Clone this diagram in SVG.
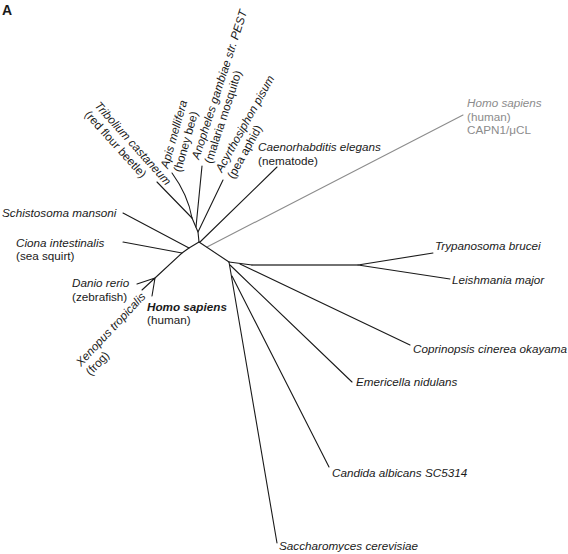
<svg xmlns="http://www.w3.org/2000/svg" width="568" height="554" viewBox="0 0 568 554">
<style>
.br{fill:none;stroke:#1a1a1a;stroke-width:1.1;stroke-linecap:round;stroke-linejoin:round}
.gr{stroke:#8c8c8c}
.thk{stroke:#444;stroke-width:1.6}
text{font-family:"Liberation Sans",Arial,sans-serif;font-size:11.7px;fill:#1a1a1a}
.it{font-style:italic}
.b{font-weight:bold}
.g{fill:#8c8c8c}
</style>
<rect width="568" height="554" fill="#fff"/>
<text x="2" y="15" class="b" style="font-size:14px">A</text>
<g id="connectors">
<path class="br" d="M157,182 L192,218"/>
<path class="br" d="M172,173 Q188,195 192,218"/>
<path class="br" d="M202,166 L196,227"/>
<path class="br" d="M223,180 L198,232"/>
<path class="br" d="M192,218 L198,232 L199,242"/>
<path class="br" d="M277,167 L200,242"/>
<path class="br gr" d="M207,247 L463,115"/>
<path class="br" d="M199,242 L189,248 L182,253 L155,278"/>
<path class="br" d="M123,213 L189,248"/>
<path class="br" d="M123,242 L182,253"/>
<path class="br" d="M155,278 L137,284 M155,278 L142,290 M155,278 L152,296"/>
<path class="br" d="M199,242 L229,262"/>
<path class="br" d="M229,262 L252,265"/>
<path class="br thk" d="M252,265 L358,265"/>
<path class="br" d="M358,265 L433,253 M358,265 L450,279"/>
<path class="br" d="M240,264 L410,345"/>
<path class="br" d="M230,265 L352,382"/>
<path class="br" d="M229,262 L277,543"/>
<path class="br" d="M232,276 L329,467"/>
</g>
<g id="n-tribolium" transform="translate(94,106) rotate(48)">
<text class="it" x="0" y="0">Tribolium castaneum</text>
<text x="0" y="13.5">(red flour beetle)</text>
</g>
<g id="n-apis" transform="translate(168,169) rotate(-74)">
<text class="it" x="0" y="0">Apis mellifera</text>
<text x="0" y="13.5">(honey bee)</text>
</g>
<g id="n-anopheles" transform="translate(199,160) rotate(-72)">
<text class="it" x="0" y="0">Anopheles gambiae str. PEST</text>
<text x="0" y="13.5">(malaria mosquito)</text>
</g>
<g id="n-acyrthosiphon" transform="translate(222,173) rotate(-61)">
<text class="it" x="0" y="0">Acyrthosiphon pisum</text>
<text x="0" y="13.5">(pea aphid)</text>
</g>
<g id="n-caenorhabditis">
<text class="it" x="258" y="151">Caenorhabditis elegans</text>
<text x="258" y="164.5">(nematode)</text>
</g>
<g id="n-capn1">
<text class="it g" x="467" y="107">Homo sapiens</text>
<text class="g" x="467" y="120.5">(human)</text>
<text class="g" x="467" y="134">CAPN1/μCL</text>
</g>
<g id="n-schistosoma">
<text class="it" x="2" y="217">Schistosoma mansoni</text>
</g>
<g id="n-ciona">
<text class="it" x="16" y="246.5">Ciona intestinalis</text>
<text x="16" y="260">(sea squirt)</text>
</g>
<g id="n-danio">
<text class="it" x="72" y="287">Danio rerio</text>
<text x="72" y="300.5">(zebrafish)</text>
</g>
<g id="n-homo">
<text class="it b" x="147" y="310.5">Homo sapiens</text>
<text x="147" y="324">(human)</text>
</g>
<g id="n-xenopus" transform="translate(81,367) rotate(-47)">
<text class="it" x="0" y="0">Xenopus tropicalis</text>
<text x="0" y="13.5">(frog)</text>
</g>
<g id="n-trypanosoma">
<text class="it" x="435" y="250">Trypanosoma brucei</text>
</g>
<g id="n-leishmania">
<text class="it" x="452" y="283.5">Leishmania major</text>
</g>
<g id="n-coprinopsis">
<text class="it" x="413" y="353">Coprinopsis cinerea okayama</text>
</g>
<g id="n-emericella">
<text class="it" x="356" y="386">Emericella nidulans</text>
</g>
<g id="n-candida">
<text class="it" x="332" y="476.5">Candida albicans SC5314</text>
</g>
<g id="n-saccharomyces">
<text class="it" x="279" y="550">Saccharomyces cerevisiae</text>
</g>
</svg>
